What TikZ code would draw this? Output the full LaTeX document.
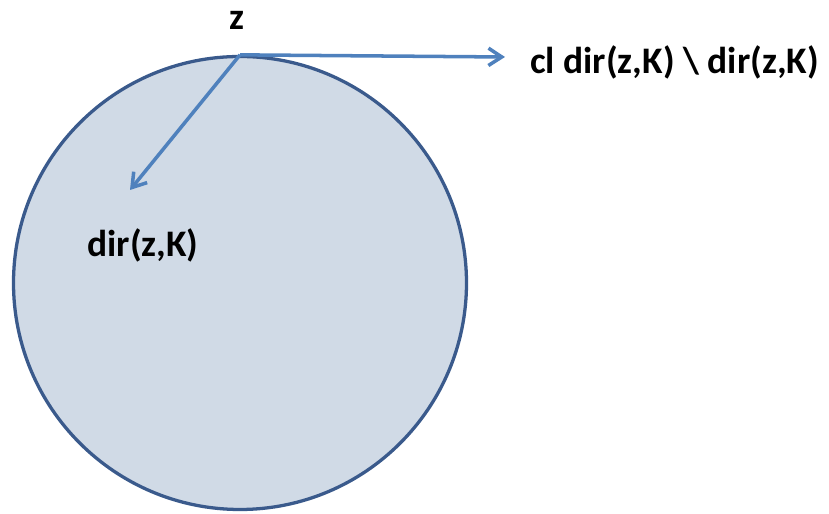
\documentclass[tikz,border=0pt]{standalone}
\usepackage{fontspec}
\setmainfont{Carlito}
\usetikzlibrary{arrows.meta}
\definecolor{diskfill}{RGB}{208,218,230}
\definecolor{diskedge}{RGB}{58,90,140}
\definecolor{arrowblue}{RGB}{79,129,189}
\tikzset{
  lbl/.style = {font = \bfseries\fontsize{32}{38}\selectfont, inner sep = 0pt},
  dirarrow/.style = {draw = arrowblue, line width = 3pt,
                     -{Straight Barb[length = 4mm, width = 5.2mm]}}
}
\begin{document}
\begin{tikzpicture}[x = .03cm, y = .03cm]
  \useasboundingbox (0,0) rectangle (829,514);
  \node [circle, draw = diskedge, line width = 2.8pt, fill = diskfill,
         minimum size = 453*.03cm, inner sep = 0pt] (disk) at (240,231) {};
  \coordinate (z) at (disk.north);
  \coordinate (tip) at (505,457);
  \coordinate (inner) at (130,324);
  \node [lbl] (zlabel) at (237,494) {z};
  \node [lbl, anchor = west] (cllabel) at (530,452) {cl dir(z,K) \textbackslash{} dir(z,K)};
  \node [lbl] (dirlabel) at (143,269) {dir(z,K)};
  \draw [dirarrow] (z) -- (tip);
  \draw [dirarrow] (z) -- (inner);
\end{tikzpicture}
\end{document}
